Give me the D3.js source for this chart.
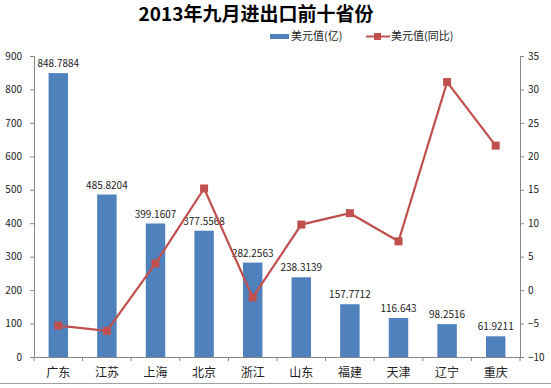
<!DOCTYPE html>
<html>
<head>
<meta charset="utf-8">
<script src="https://cdn.jsdelivr.net/npm/d3@7"></script>
<style>
  body { margin: 0; background: #fff; }
  svg text { font-family: "Noto Sans CJK SC", "DejaVu Sans", sans-serif; }
</style>
</head>
<body>
<div id="chart"></div>
<script>
var provinces = ["广东", "江苏", "上海", "北京", "浙江", "山东", "福建", "天津", "辽宁", "重庆"];
var usdValues = [848.7884, 485.8204, 399.1607, 377.5568, 282.2563, 238.3139, 157.7712, 116.643, 98.2516, 61.9211];
var usdLabels = ["848.7884", "485.8204", "399.1607", "377.5568", "282.2563", "238.3139", "157.7712", "116.643", "98.2516", "61.9211"];
var yoyValues = [-5.3, -6.1, 4.0, 15.2, -1.1, 9.8, 11.5, 7.3, 31.1, 21.6];
var leftTicks = [0, 100, 200, 300, 400, 500, 600, 700, 800, 900];
var rightTicks = [-10, -5, 0, 5, 10, 15, 20, 25, 30, 35];

var width = 551, height = 388;
var plot = {left: 34, right: 520, top: 56, bottom: 357};

var svg = d3.select('#chart').append('svg')
    .attr('width', width)
    .attr('height', height);

var x = d3.scaleBand()
    .domain(provinces)
    .range([plot.left, plot.right])
    .paddingInner(0.6)
    .paddingOuter(0.3);

var yLeft = d3.scaleLinear().domain([0, 900]).range([plot.bottom, plot.top]);
var yRight = d3.scaleLinear().domain([-10, 35]).range([plot.bottom, plot.top]);

// title
svg.append('text')
    .attr('x', 256).attr('y', 21)
    .attr('text-anchor', 'middle')
    .style('font-size', '19px').style('font-weight', 'bold')
    .attr('fill', '#000')
    .text('2013年九月进出口前十省份');

// legend
var legend = svg.append('g').style('font-size', '11px');
legend.append('rect').attr('x', 270).attr('y', 34).attr('width', 19).attr('height', 5).attr('fill', '#4f81bd');
legend.append('text').attr('x', 291).attr('y', 40).attr('fill', '#222').text('美元值(亿)');
legend.append('line').attr('x1', 366).attr('x2', 390).attr('y1', 36.5).attr('y2', 36.5)
    .attr('stroke', '#c0504d').attr('stroke-width', 2);
legend.append('rect').attr('x', 374).attr('y', 33).attr('width', 7).attr('height', 7).attr('fill', '#c0504d');
legend.append('text').attr('x', 391).attr('y', 40).attr('fill', '#222').text('美元值(同比)');

// bars
svg.selectAll('rect.bar')
    .data(usdValues)
  .enter().append('rect')
    .attr('class', 'bar')
    .attr('x', function(d, i) { return x(provinces[i]); })
    .attr('width', x.bandwidth())
    .attr('y', function(d) { return yLeft(d); })
    .attr('height', function(d) { return yLeft(0) - yLeft(d); })
    .attr('fill', '#4f81bd');

svg.selectAll('text.val')
    .data(usdValues)
  .enter().append('text')
    .attr('class', 'val')
    .attr('x', function(d, i) { return x(provinces[i]) + x.bandwidth() / 2; })
    .attr('y', function(d) { return yLeft(d) - 6; })
    .attr('text-anchor', 'middle')
    .style('font-size', '10px')
    .attr('fill', '#222')
    .text(function(d, i) { return usdLabels[i]; });

// axes
var axisColor = '#868686';
var gl = svg.append('g').attr('transform', 'translate(' + plot.left + ',0)')
    .call(d3.axisLeft(yLeft).tickValues(leftTicks).tickSize(4).tickPadding(8));
var gr = svg.append('g').attr('transform', 'translate(' + plot.right + ',0)')
    .call(d3.axisRight(yRight).tickValues(rightTicks).tickSize(4).tickPadding(4));
var gx = svg.append('g').attr('transform', 'translate(0,' + plot.bottom + ')')
    .call(d3.axisBottom(x).tickSize(0).tickPadding(11));

[gl, gr, gx].forEach(function(g) {
  g.select('.domain').attr('stroke', axisColor);
  g.selectAll('.tick line').attr('stroke', axisColor);
  g.selectAll('.tick text').attr('fill', '#222')
    .style('font-family', '"Noto Sans CJK SC", "DejaVu Sans", sans-serif');
});
gl.selectAll('.tick text').style('font-size', '10px');
gr.selectAll('.tick text').style('font-size', '10px');
gx.selectAll('.tick text').style('font-size', '12px');

// category separator ticks
var bounds = provinces.map(function(p) { return x(p) - x.step() * x.paddingInner() / 2; });
bounds.push(plot.right);
gx.selectAll('line.sep')
    .data(bounds)
  .enter().append('line')
    .attr('class', 'sep')
    .attr('x1', function(d) { return d; }).attr('x2', function(d) { return d; })
    .attr('y1', 0).attr('y2', 4)
    .attr('stroke', axisColor);

// line series
var line = d3.line()
    .x(function(d, i) { return x(provinces[i]) + x.bandwidth() / 2; })
    .y(function(d) { return yRight(d); });

svg.append('path')
    .datum(yoyValues)
    .attr('d', line)
    .attr('fill', 'none')
    .attr('stroke', '#c0504d')
    .attr('stroke-width', 2.2);

svg.selectAll('rect.marker')
    .data(yoyValues)
  .enter().append('rect')
    .attr('class', 'marker')
    .attr('x', function(d, i) { return x(provinces[i]) + x.bandwidth() / 2 - 4; })
    .attr('y', function(d) { return yRight(d) - 4; })
    .attr('width', 8).attr('height', 8)
    .attr('fill', '#c0504d');

// chart border bottom
svg.append('line')
    .attr('x1', 0).attr('x2', width)
    .attr('y1', 383.5).attr('y2', 383.5)
    .attr('stroke', '#a0a0a0');
</script>
</body>
</html>
